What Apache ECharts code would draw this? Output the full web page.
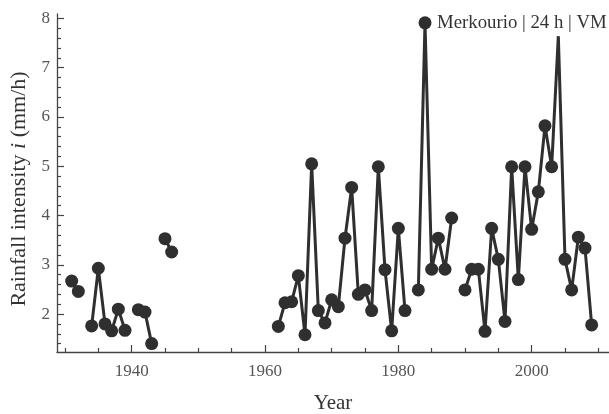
<!DOCTYPE html>
<html>
<head>
<meta charset="utf-8">
<script src="https://cdn.jsdelivr.net/npm/echarts@6/dist/echarts.min.js"></script>
<style>
  html, body { margin: 0; padding: 0; background: #fff; }
  #chart { width: 609px; height: 414px; }
</style>
</head>
<body>
<div id="chart"></div>
<script>
  // yearly maxima, '-' marks a missing year (breaks the line)
  const years = [
    1931, 1932, 1933, 1934, 1935, 1936, 1937, 1938, 1939, 1940,
    1941, 1942, 1943, 1944, 1945, 1946, 1947,
    1962, 1963, 1964, 1965, 1966, 1967, 1968, 1969, 1970,
    1971, 1972, 1973, 1974, 1975, 1976, 1977, 1978, 1979, 1980,
    1981, 1982, 1983, 1984, 1985, 1986, 1987, 1988, 1989, 1990,
    1991, 1992, 1993, 1994, 1995, 1996, 1997, 1998, 1999, 2000,
    2001, 2002, 2003, 2004, 2005, 2006, 2007, 2008, 2009
  ];
  const intensity = [
    2.67, 2.46, '-', 1.76, 2.93, 1.80, 1.66, 2.10, 1.67, '-',
    2.09, 2.04, 1.40, '-', 3.53, 3.26, '-',
    1.75, 2.23, 2.25, 2.78, 1.58, 5.05, 2.07, 1.82, 2.29,
    2.15, 3.54, 4.57, 2.40, 2.49, 2.07, 4.99, 2.90, 1.66, 3.74,
    2.07, '-', 2.49, 7.91, 2.91, 3.54, 2.91, 3.95, '-', 2.49,
    2.91, 2.91, 1.65, 3.74, 3.11, 1.85, 4.99, 2.70, 4.99, 3.72,
    4.48, 5.82, 4.99, 7.64, 3.11, 2.49, 3.56, 3.34, 1.78
  ];
  // the 2004 spike is drawn without a dot in the original
  const yearsWithoutDot = [2004];

  const xMajorTicks = [1940, 1960, 1980, 2000];
  const xMinorTicks = [1930, 1935, 1945, 1950, 1955, 1965, 1970, 1975, 1985, 1990, 1995, 2005, 2010];
  const yMajorTicks = [2, 3, 4, 5, 6, 7, 8];
  const yMinorTicks = [1.4, 1.6, 1.8, 2.2, 2.4, 2.6, 2.8, 3.2, 3.4, 3.6, 3.8, 4.2, 4.4, 4.6, 4.8,
    5.2, 5.4, 5.6, 5.8, 6.2, 6.4, 6.6, 6.8, 7.2, 7.4, 7.6, 7.8];

  const serif = "'Liberation Serif', 'Times New Roman', serif";
  const axisColor = '#444';
  const labelColor = '#555';
  const ink = '#2f2f2f';

  const xRange = { min: 1928.8, max: 2011.6 };
  const yRange = { min: 1.23, max: 8.09 };

  const chart = echarts.init(document.getElementById('chart'));

  const points = years.map(function (yr, i) {
    const item = { value: [yr, intensity[i]] };
    if (yearsWithoutDot.indexOf(yr) >= 0) item.symbol = 'none';
    return item;
  });

  chart.setOption({
    animation: false,
    title: {
      text: 'Merkourio | 24 h | VM',
      left: 437,
      top: 14,
      padding: 0,
      textStyle: { fontFamily: serif, fontSize: 18.8, fontWeight: 'normal', color: '#333' }
    },
    grid: { left: 57, right: 0, top: 14, bottom: 62, containLabel: false, outerBoundsMode: 'none' },
    xAxis: [
      {
        type: 'value',
        min: xRange.min,
        max: xRange.max,
        name: 'Year',
        nameLocation: 'middle',
        nameGap: 41,
        nameTextStyle: { fontFamily: serif, fontSize: 21, color: '#333' },
        axisLine: { show: true, onZero: false, lineStyle: { color: axisColor, width: 1.3 } },
        axisTick: { show: true, inside: true, length: 7, customValues: xMajorTicks, lineStyle: { color: axisColor, width: 1.2 } },
        axisLabel: {
          customValues: xMajorTicks,
          formatter: function (v) { return String(v); },
          fontFamily: serif, fontSize: 17, color: labelColor, margin: 11
        },
        splitLine: { show: false }
      },
      {
        type: 'value',
        min: xRange.min,
        max: xRange.max,
        position: 'bottom',
        axisLine: { show: false, onZero: false },
        axisTick: { show: true, inside: true, length: 4, customValues: xMinorTicks, lineStyle: { color: axisColor, width: 1.2 } },
        axisLabel: { show: false },
        splitLine: { show: false }
      }
    ],
    yAxis: [
      {
        type: 'value',
        min: yRange.min,
        max: yRange.max,
        name: 'Rainfall intensity {it|i} (mm/h)',
        nameLocation: 'middle',
        nameGap: 27,
        nameTextStyle: {
          fontFamily: serif, fontSize: 22, color: '#333',
          padding: [0, 12, 0, 0],
          rich: { it: { fontFamily: serif, fontSize: 22, fontStyle: 'italic', color: '#333' } }
        },
        axisLine: { show: true, onZero: false, lineStyle: { color: axisColor, width: 1.3 } },
        axisTick: { show: true, inside: true, length: 7, customValues: yMajorTicks, lineStyle: { color: axisColor, width: 1.2 } },
        axisLabel: {
          customValues: yMajorTicks,
          fontFamily: serif, fontSize: 17, color: labelColor, margin: 7
        },
        splitLine: { show: false }
      },
      {
        type: 'value',
        min: yRange.min,
        max: yRange.max,
        position: 'left',
        axisLine: { show: false, onZero: false },
        axisTick: { show: true, inside: true, length: 4, customValues: yMinorTicks, lineStyle: { color: axisColor, width: 1.2 } },
        axisLabel: { show: false },
        splitLine: { show: false }
      }
    ],
    series: [
      {
        type: 'line',
        xAxisIndex: 0,
        yAxisIndex: 0,
        data: points,
        connectNulls: false,
        symbol: 'circle',
        symbolSize: 13,
        showAllSymbol: true,
        clip: false,
        lineStyle: { color: ink, width: 3, join: 'bevel' },
        itemStyle: { color: ink },
        emphasis: { disabled: true }
      }
    ]
  });
</script>
</body>
</html>
